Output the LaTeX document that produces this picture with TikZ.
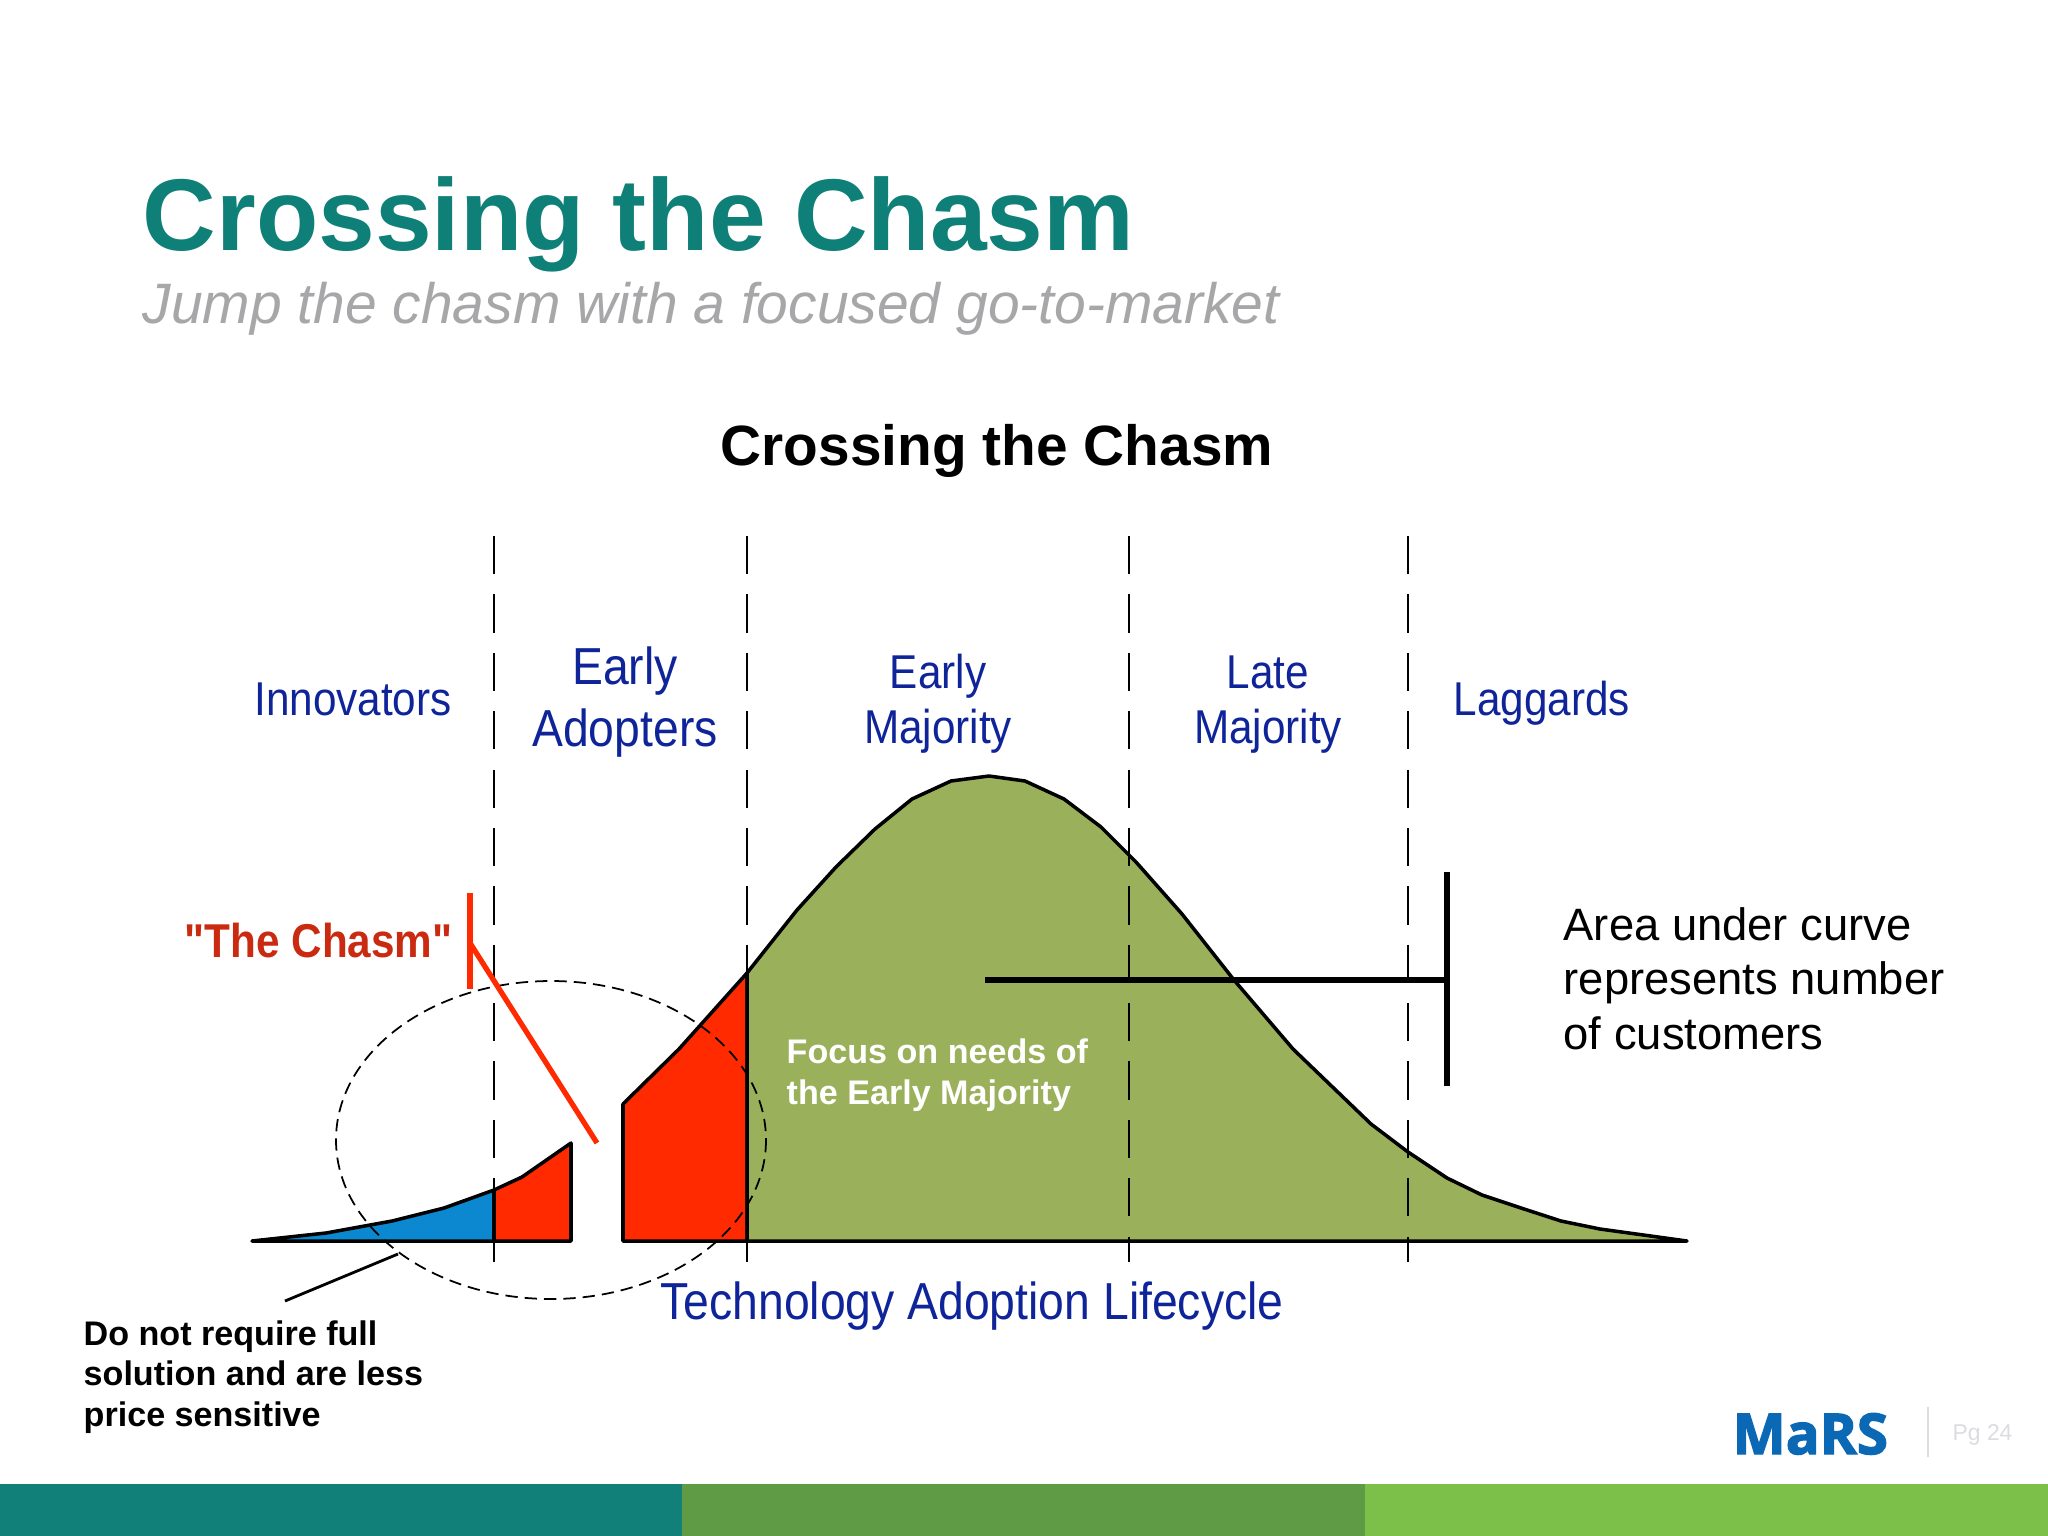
\documentclass[tikz,border=0pt]{standalone}
\usepackage{fontspec}
\setmainfont{Liberation Sans}
\newfontfamily\narrowfont[FakeStretch=0.89]{Liberation Sans}
\newfontfamily\logofont[FakeBold=2.5]{Open Sans}
\usepackage{xcolor}
\definecolor{tealtitle}{HTML}{0F8078}
\definecolor{greysub}{HTML}{A7A6A8}
\definecolor{navylabel}{HTML}{10249A}
\definecolor{redtext}{HTML}{C92A10}
\definecolor{redfill}{HTML}{FF2A00}
\definecolor{bluefill}{HTML}{0B88CF}
\definecolor{greenfill}{HTML}{9AB05A}
\definecolor{barone}{HTML}{108078}
\definecolor{bartwo}{HTML}{5F9A44}
\definecolor{barthree}{HTML}{7CC04A}
\definecolor{logoblue}{HTML}{0A68B4}
\definecolor{pagegrey}{HTML}{DDDBE0}
\tikzset{
 curvearea/.style={draw=black,line width=1pt,line join=round},
 divider/.style={draw=black,line width=0.8pt,dash pattern=on 10.9pt off 5.7pt},
 phase/.style={text=navylabel,align=center,anchor=base,inner sep=0pt,font=\narrowfont\fontsize{13.5}{15.5}\selectfont},
 note/.style={align=left,anchor=base west,inner sep=0pt},
 redline/.style={draw=redfill,line width=1.5pt}
}
\begin{document}
\begin{tikzpicture}[x=0.01cm,y=-0.01cm]
 \useasboundingbox (0,0) rectangle (2048,1536);
 \fill [white] (0,0) rectangle (2048,1536);
 % bottom bar
 \fill [barone] (0,1484) rectangle (682,1536);
 \fill [bartwo] (682,1484) rectangle (1365,1536);
 \fill [barthree] (1365,1484) rectangle (2048,1536);
 % titles
 \node (title) [note,text=tealtitle,font=\bfseries\fontsize{29}{32}\selectfont] at (142,250) {Crossing the Chasm};
 \node (subtitle) [note,text=greysub,font=\itshape\fontsize{16.2}{18}\selectfont] at (142,323) {Jump the chasm with a focused go-to-market};
 \node (heading) [anchor=base,inner sep=0pt,font=\bfseries\fontsize{16.15}{19}\selectfont] at (997,465) {Crossing the Chasm};
 % areas under the curve
 \draw [curvearea,fill=bluefill] (252,1241) -- (326,1233) -- (392,1221) -- (444,1208) -- (494,1190) -- (494,1241) -- cycle;
 \draw [curvearea,fill=redfill] (494,1190) -- (522,1177) -- (571,1143) -- (571,1241) -- (494,1241) -- cycle;
 \draw [curvearea,fill=redfill] (623,1104) -- (679,1049) -- (747,973) -- (747,1241) -- (623,1241) -- cycle;
 \draw [curvearea,fill=greenfill] (747,973) -- (797,910) -- (836,867) -- (875,829) -- (912,799) -- (951,781) -- (989,776) -- (1025,781) -- (1064,799) -- (1101,827) -- (1136,862) -- (1182,914) -- (1234,980) -- (1293,1049) -- (1371,1124) -- (1408,1152) -- (1447,1178) -- (1482,1195) -- (1521,1208) -- (1561,1221) -- (1600,1229) -- (1687,1241) -- (747,1241) -- cycle;
 % phase dividers
 \coordinate (d1) at (494,536);
 \coordinate (d2) at (494,1262);
 \coordinate (d3) at (747,536);
 \coordinate (d4) at (747,1262);
 \coordinate (d5) at (1129,536);
 \coordinate (d6) at (1129,1262);
 \coordinate (d7) at (1408,536);
 \coordinate (d8) at (1408,1262);
 \draw [divider] (d1) -- (d2);
 \draw [divider] (d3) -- (d4);
 \draw [divider] (d5) -- (d6);
 \draw [divider] (d7) -- (d8);
 % ellipse
 \draw [line width=0.5pt,dash pattern=on 3.5pt off 2pt] (551,1140) ellipse (215 and 159);
 % phase names
 \node (innovators) [phase] at (353,715) {Innovators};
 \node (adopters) [phase,font=\narrowfont\fontsize{14.8}{17.4}\selectfont] at (625,746) {Early\\Adopters};
 \node (earlymaj) [phase] at (938,743) {Early\\Majority};
 \node (latemaj) [phase] at (1268,743) {Late\\Majority};
 \node (laggards) [phase] at (1542,715) {Laggards};
 \node (lifecycle) [phase,font=\narrowfont\fontsize{14.8}{17}\selectfont] at (972,1319) {Technology Adoption Lifecycle};
 % chasm
 \node (chasm) [note,text=redtext,font=\narrowfont\bfseries\fontsize{13.5}{15}\selectfont] at (184,957) {"The Chasm"};
 \coordinate (r1) at (470,893);
 \coordinate (r2) at (470,989);
 \coordinate (r3) at (470,943);
 \coordinate (r4) at (597,1143);
 \draw [redline] (r1) -- (r2);
 \draw [redline] (r3) -- (r4);
 % area note
 \node (focus) [note,text=white,font=\bfseries\fontsize{9.7}{11.4}\selectfont] at (786,1104) {Focus on needs of\\the Early Majority};
 \node (area) [note,font=\fontsize{12.9}{15.4}\selectfont] at (1563,1049) {Area under curve\\represents number\\of customers};
 \coordinate (b1) at (985,980);
 \coordinate (b2) at (1447,980);
 \coordinate (b3) at (1447,872);
 \coordinate (b4) at (1447,1086);
 \draw [line width=1.5pt] (b1) -- (b2);
 \draw [line width=1.5pt] (b3) -- (b4);
 % pointer and its note
 \coordinate (p1) at (398,1254);
 \coordinate (p2) at (285,1301);
 \draw [line width=0.8pt] (p1) -- (p2);
 \node (needs) [note,font=\bfseries\fontsize{9.7}{11.4}\selectfont] at (83,1426) {Do not require full\\solution and are less\\price sensitive};
 % footer
 \node (logo) [anchor=base west,inner sep=0pt,text=logoblue,font=\logofont\bfseries\fontsize{16}{18}\selectfont] at (1732,1454) {MaRS};
 \coordinate (s1) at (1928,1407);
 \coordinate (s2) at (1928,1457);
 \draw [pagegrey,line width=0.4pt] (s1) -- (s2);
 \node (page) [note,text=pagegrey,font=\fontsize{6.5}{8}\selectfont] at (1952,1440) {Pg 24};
\end{tikzpicture}
\end{document}
